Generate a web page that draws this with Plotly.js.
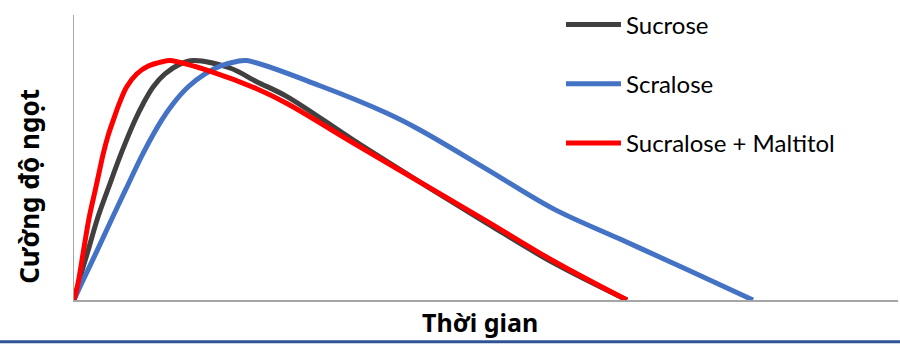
<!DOCTYPE html>
<html>
<head>
<meta charset="utf-8">
<script src="https://cdn.plot.ly/plotly-3.0.1.min.js"></script>
<style>
  html, body { margin: 0; padding: 0; background: #ffffff; }
  #chart { width: 900px; height: 344px; }
</style>
</head>
<body>
<div id="chart"></div>
<script>
// Sweetness intensity over time (arbitrary units)
const sucroseTime = [0, 1.09, 1.70, 2.85, 4.13, 5.76, 7.40, 8.41, 9.62, 11.04, 12.86, 14.48, 18.93, 22.17, 25.85, 33.86, 41.99, 50.12, 58.13, 67.11];
const sucroseIntensity = [0, 11.38, 17.24, 28.62, 38.97, 51.72, 63.10, 68.97, 74.83, 79.31, 82.76, 84.0, 81.4, 76.6, 71.38, 56.21, 41.38, 26.90, 13.10, 0];

const scraloseTime = [0, 0.93, 2.79, 4.61, 6.31, 8.43, 10.64, 12.05, 13.87, 15.90, 17.72, 19.75, 20.96, 29.85, 37.99, 41.99, 50.12, 58.13, 66.26, 74.39, 82.40];
const scraloseIntensity = [0, 5.86, 17.24, 28.62, 38.97, 51.72, 63.10, 68.97, 74.83, 79.31, 82.07, 83.69, 84.0, 75.17, 65.52, 59.66, 45.86, 32.07, 21.38, 10.69, 0];

const blendTime = [0, 0.49, 1.15, 1.82, 2.61, 3.13, 3.58, 4.13, 4.77, 5.50, 6.40, 7.61, 9.02, 10.84, 11.65, 16.91, 22.17, 25.85, 33.86, 41.99, 50.12, 58.13, 67.11];
const blendIntensity = [0, 5.86, 17.24, 28.62, 38.97, 45.86, 51.72, 57.59, 63.10, 68.97, 74.83, 79.31, 82.07, 83.69, 84.0, 79.90, 74.14, 68.97, 55.17, 41.38, 27.59, 13.79, 0];

const seriesNames = ['Sucrose', 'Scralose', 'Sucralose + Maltitol'];
const seriesColors = ['#404040', '#4472C4', '#FF0000'];

const xTitle = 'Thời gian';
const yTitle = 'Cường độ ngọt';

const seriesX = [sucroseTime, scraloseTime, blendTime];
const seriesY = [sucroseIntensity, scraloseIntensity, blendIntensity];

const traces = seriesNames.map((name, i) => ({
  type: 'scatter',
  mode: 'lines',
  name: name,
  x: seriesX[i],
  y: seriesY[i],
  legendgroup: 'g' + i,
  line: { color: seriesColors[i], width: 5, shape: 'spline', smoothing: 1 },
  hoverinfo: 'skip'
}));

const titleFont = { family: '"Noto Sans", sans-serif', weight: 'bold', color: '#000000' };

const layout = {
  width: 900,
  height: 344,
  margin: { l: 74, r: 2, t: 10, b: 44 },
  paper_bgcolor: '#ffffff',
  plot_bgcolor: '#ffffff',
  font: { family: 'Lato, "Noto Sans", sans-serif', color: '#000000' },
  showlegend: true,
  legend: {
    x: 0.591, y: 1.044,
    xanchor: 'left', yanchor: 'top',
    bgcolor: 'rgba(0,0,0,0)',
    font: { size: 24, family: 'Lato, "Noto Sans", sans-serif', color: '#000000' },
    traceorder: 'grouped',
    tracegroupgap: 25,
    itemwidth: 55
  },
  xaxis: {
    range: [0, 100],
    showgrid: false,
    zeroline: false,
    showticklabels: false,
    ticks: '',
    showline: true,
    linecolor: '#a6a6a6',
    linewidth: 1.5
  },
  yaxis: {
    range: [0, 100],
    showgrid: false,
    zeroline: false,
    showticklabels: false,
    ticks: '',
    showline: true,
    linecolor: '#a6a6a6',
    linewidth: 1.5
  },
  annotations: [
    {
      text: xTitle,
      xref: 'paper', yref: 'paper',
      x: 0.4927, y: -0.0759,
      xanchor: 'center', yanchor: 'middle',
      showarrow: false,
      font: Object.assign({ size: 25 }, titleFont)
    },
    {
      text: yTitle,
      xref: 'paper', yref: 'paper',
      x: -0.0546, y: 0.397,
      xanchor: 'center', yanchor: 'middle',
      textangle: -90,
      showarrow: false,
      font: Object.assign({ size: 26 }, titleFont)
    }
  ],
  shapes: [{
    type: 'line',
    xref: 'paper', yref: 'paper',
    x0: -0.1, x1: 1.01,
    y0: -0.1466, y1: -0.1466,
    line: { color: '#2F5496', width: 3 }
  }]
};

Plotly.newPlot('chart', traces, layout, { displayModeBar: false, staticPlot: true });
</script>
</body>
</html>
